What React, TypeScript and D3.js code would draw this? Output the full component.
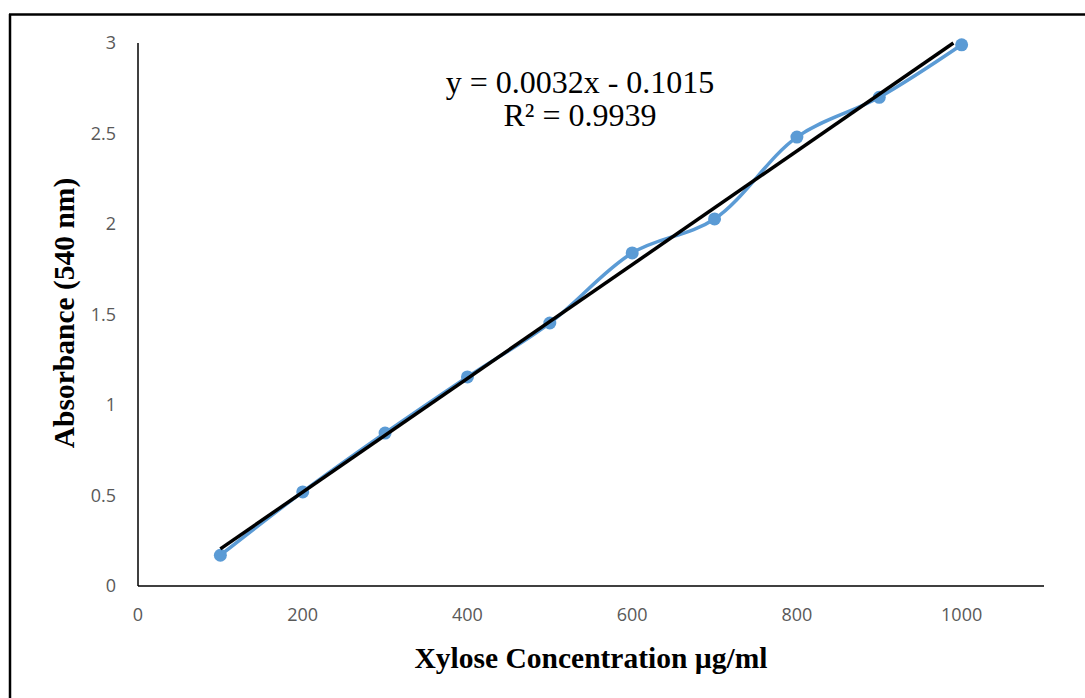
import React from 'react';
import * as d3 from 'd3';

const concentrations = [100, 200, 300, 400, 500, 600, 700, 800, 900, 1000];
const absorbances = [0.17, 0.52, 0.845, 1.155, 1.453, 1.84, 2.028, 2.48, 2.7, 2.99];
const xTicks = [0, 200, 400, 600, 800, 1000];
const yTicks = [0, 0.5, 1, 1.5, 2, 2.5, 3];
const equationLines = ['y = 0.0032x - 0.1015', 'R² = 0.9939'];

const W = 1085;
const H = 698;
const margin = { left: 138, right: 1044, top: 43, bottom: 586 };

export default function App() {
  const x = d3.scaleLinear().domain([0, 1100]).range([margin.left, margin.right]);
  const y = d3.scaleLinear().domain([0, 3]).range([margin.bottom, margin.top]);

  const points = concentrations.map((c, i) => ({ c, a: absorbances[i] }));

  const smooth = d3.line<{ c: number; a: number }>()
    .x(d => x(d.c))
    .y(d => y(d.a))
    .curve(d3.curveCatmullRom.alpha(0.5));

  // least squares fit for the trendline
  const mx = d3.mean(concentrations) as number;
  const my = d3.mean(absorbances) as number;
  const slope = d3.sum(points, d => (d.c - mx) * (d.a - my)) / d3.sum(points, d => (d.c - mx) ** 2);
  const intercept = my - slope * mx;
  const x0 = concentrations[0];
  const x1 = concentrations[concentrations.length - 1] - 10;

  const tickColor = '#595959';
  const tickFont = 'Open Sans, Liberation Sans, sans-serif';
  const serif = 'Liberation Serif, Times New Roman, serif';

  return (
    <svg width={W} height={H} style={{ position: 'absolute', left: 0, top: 0, background: '#fff' }}>
      {/* frame */}
      <line x1={9} y1={14.5} x2={W} y2={14.5} stroke="#000" strokeWidth={2.5} />
      <line x1={10} y1={14} x2={10} y2={H} stroke="#000" strokeWidth={2.5} />

      {/* axes */}
      <line x1={margin.left} y1={y(3)} x2={margin.left} y2={margin.bottom} stroke="#000" strokeWidth={1.5} />
      <line x1={margin.left} y1={margin.bottom} x2={margin.right} y2={margin.bottom} stroke="#000" strokeWidth={1.5} />

      {yTicks.map(t => (
        <text key={t} x={margin.left - 22} y={y(t)} dy="0.35em" textAnchor="end"
          fontFamily={tickFont} fontSize={18} fill={tickColor}>{t}</text>
      ))}
      {xTicks.map(t => (
        <text key={t} x={x(t)} y={margin.bottom + 29} dy="0.35em" textAnchor="middle"
          fontFamily={tickFont} fontSize={18} fill={tickColor}>{t}</text>
      ))}

      {/* series */}
      <path d={smooth(points) || ''} fill="none" stroke="#5B9BD5" strokeWidth={3.5} />
      {points.map(d => (
        <circle key={d.c} cx={x(d.c)} cy={y(d.a)} r={6.5} fill="#5B9BD5" />
      ))}

      {/* trendline */}
      <line x1={x(x0)} y1={y(slope * x0 + intercept)} x2={x(x1)} y2={y(slope * x1 + intercept)}
        stroke="#000" strokeWidth={3.5} />

      {/* equation */}
      {equationLines.map((l, i) => (
        <text key={l} x={580} y={93 + i * 33} textAnchor="middle"
          fontFamily={serif} fontSize={32} fill="#000">{l}</text>
      ))}

      {/* axis titles */}
      <text x={591} y={668} textAnchor="middle" fontFamily={serif}
        fontWeight="bold" fontSize={29.5} fill="#000">Xylose Concentration µg/ml</text>
      <text transform="translate(74,313) rotate(-90)" textAnchor="middle"
        fontFamily={serif} fontWeight="bold" fontSize={29.5} fill="#000">
        Absorbance (540 nm)
      </text>
    </svg>
  );
}
